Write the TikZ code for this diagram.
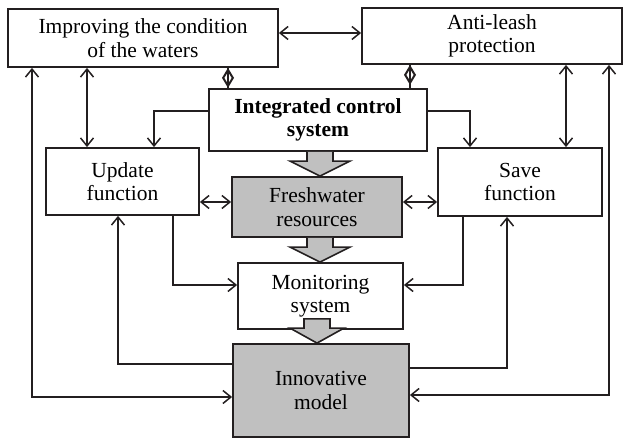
\documentclass[tikz,border=0pt]{standalone}
\usepackage{fontspec}
\setmainfont{Liberation Serif}
\usetikzlibrary{arrows.meta,calc}
\definecolor{ink}{HTML}{231F20}
\definecolor{shade}{HTML}{C0C0C0}
\begin{document}
\begin{tikzpicture}[x=1pt,y=-1pt,
  box/.style={draw=ink,line width=1.8pt,inner sep=0pt,align=center,
    font=\fontsize{21.5}{23.5}\selectfont,text=black},
  graybox/.style={box,fill=shade},
  conn/.style={draw=ink,line width=1.5pt},
  arr/.style={conn,-{Straight Barb[length=8pt,width=13pt,line width=1.5pt]}},
  dbl/.style={conn,{Straight Barb[length=8pt,width=13pt,line width=1.5pt]}-{Straight Barb[length=8pt,width=13pt,line width=1.5pt]}},
  dia/.style={conn,{Diamond[open,length=20pt,width=12pt,line width=2pt]}-},
  blk/.style={draw=ink,line width=1.6pt,fill=shade,line join=miter}]
\useasboundingbox (0,0) rectangle (626,438);

% helper coordinates (levels and columns)
\coordinate (L33) at (0,33);
\coordinate (L111) at (0,111);
\coordinate (L202) at (0,202);
\coordinate (L285) at (0,285);
\coordinate (L364) at (0,364);
\coordinate (L368) at (0,368);
\coordinate (L397) at (0,397);
\coordinate (L395) at (0,395);
\coordinate (X32) at (32,0);
\coordinate (X87) at (87,0);
\coordinate (X118) at (118,0);
\coordinate (X154) at (154,0);
\coordinate (X173) at (173,0);
\coordinate (X228) at (228,0);
\coordinate (X320) at (320,0);
\coordinate (X317) at (317,0);
\coordinate (X410) at (410,0);
\coordinate (X463) at (463,0);
\coordinate (X470) at (470,0);
\coordinate (X507) at (507,0);
\coordinate (X566) at (566,0);
\coordinate (X609) at (609,0);

% boxes
\node[box,minimum width=270pt,minimum height=58pt] (imp) at (143,38) {Improving the condition\\of the waters};
\node[box,minimum width=260pt,minimum height=56pt] (anti) at (492,36) {Anti-leash\\protection};
\node[box,minimum width=218pt,minimum height=62pt,font=\fontsize{21.5}{23.5}\selectfont\bfseries] (ics) at (318,120) {Integrated control\\system};
\node[box,minimum width=153pt,minimum height=67pt] (upd) at (122.5,181.5) {Update\\function};
\node[graybox,minimum width=170pt,minimum height=60pt] (fresh) at (317,207) {Freshwater\\resources};
\node[box,minimum width=164pt,minimum height=68pt] (save) at (520,182) {Save\\function};
\node[box,minimum width=165pt,minimum height=66pt] (mon) at (320.5,296) {Monitoring\\system};
\node[graybox,minimum width=176pt,minimum height=93pt] (inno) at (321,390.5) {Innovative\\model};

% connectors
\draw[dbl] (imp.east |- L33) -- (anti.west |- L33);
\draw[conn] (imp.south -| X228) -- (ics.north -| X228);
\draw[dia] (imp.south -| X228) -- (ics.north -| X228);
\draw[conn] (anti.south -| X410) -- (ics.north -| X410);
\draw[dia] (anti.south -| X410) -- (ics.north -| X410);
\draw[arr] (ics.west |- L111) -| (upd.north -| X154);
\draw[arr] (ics.east |- L111) -| (save.north -| X470);
\draw[dbl] (imp.south -| X87) -- (upd.north -| X87);
\draw[dbl] (anti.south -| X566) -- (save.north -| X566);
\draw[dbl] (imp.south -| X32) |- (inno.west |- L397);
\draw[dbl] (anti.south -| X609) |- (inno.east |- L395);
\draw[dbl] (upd.east |- L202) -- (fresh.west |- L202);
\draw[dbl] (fresh.east |- L202) -- (save.west |- L202);
\draw[arr] (upd.south -| X173) |- (mon.west |- L285);
\draw[arr] (save.south -| X463) |- (mon.east |- L285);
\draw[arr] (inno.west |- L364) -| (upd.south -| X118);
\draw[arr] (inno.east |- L368) -| (save.south -| X507);

% block arrows
\coordinate (a1) at (ics.south -| X320);
\coordinate (b1) at (fresh.north -| X320);
\draw[blk] ($(a1)+(-13,0)$) -- ($(b1)+(-13,-15)$) -- ($(b1)+(-30,-15)$) -- (b1)
  -- ($(b1)+(30,-15)$) -- ($(b1)+(13,-15)$) -- ($(a1)+(13,0)$);
\coordinate (a2) at (fresh.south -| X320);
\coordinate (b2) at (mon.north -| X320);
\draw[blk] ($(a2)+(-13,0)$) -- ($(b2)+(-13,-15)$) -- ($(b2)+(-30,-15)$) -- (b2)
  -- ($(b2)+(30,-15)$) -- ($(b2)+(13,-15)$) -- ($(a2)+(13,0)$);
\coordinate (a3) at ($(mon.south -| X317)+(0,-11)$);
\coordinate (b3) at (inno.north -| X317);
\draw[blk] ($(a3)+(-13,0)$) -- ($(b3)+(-13,-15)$) -- ($(b3)+(-27,-15)$) -- (b3)
  -- ($(b3)+(27,-15)$) -- ($(b3)+(13,-15)$) -- ($(a3)+(13,0)$) -- cycle;
\end{tikzpicture}
\end{document}
